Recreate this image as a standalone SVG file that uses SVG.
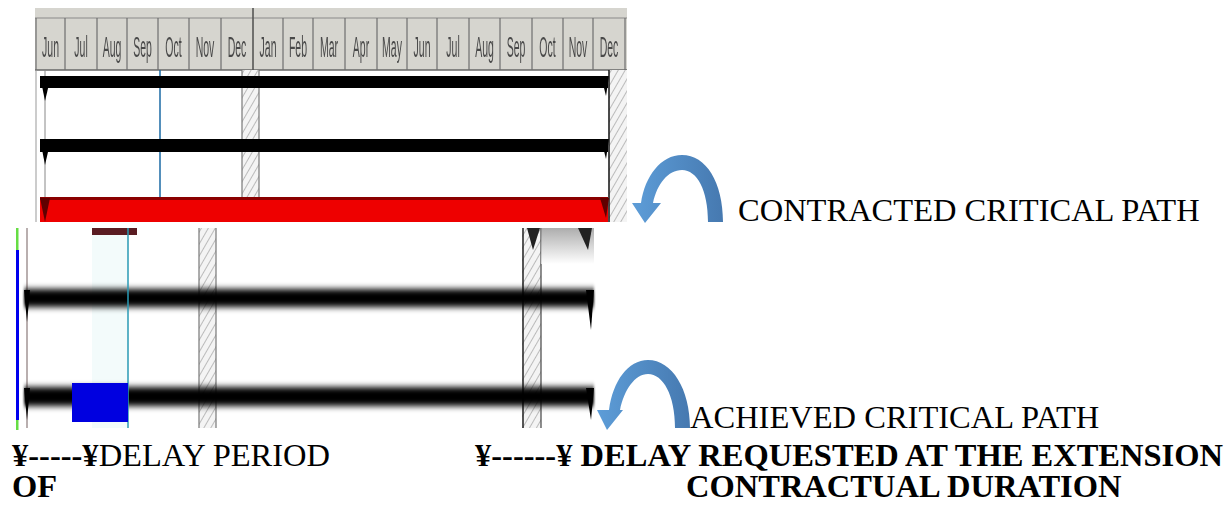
<svg xmlns="http://www.w3.org/2000/svg" width="1230" height="505" viewBox="0 0 1230 505">
<style>
.mon{font-family:"Liberation Sans",Arial,sans-serif;font-size:14px;fill:#4a4a4a;text-anchor:middle}
.lbl{font-family:"Liberation Serif","Times New Roman",serif;font-size:32.5px;fill:#000}
.b{font-weight:bold}
.div{stroke:#6e6e6e;stroke-width:1.2}
.hl{stroke:#8a8a8a;stroke-width:1.2}
</style>
<defs>
<pattern id="hatch" width="6" height="6" patternUnits="userSpaceOnUse" patternTransform="rotate(30)">
<rect width="6" height="6" fill="#f4f4f4"/>
<line x1="0" y1="0" x2="0" y2="6" stroke="#a8a8a8" stroke-width="1.5"/>
</pattern>
<linearGradient id="arr" x1="0" y1="0" x2="1" y2="0">
<stop offset="0" stop-color="#5d9dd8"/>
<stop offset="1" stop-color="#4679b0"/>
</linearGradient>
<linearGradient id="grayfade" x1="0" y1="0" x2="0" y2="1">
<stop offset="0" stop-color="#8a8a8a"/>
<stop offset="1" stop-color="#ffffff"/>
</linearGradient>
<filter id="blur" x="-5%" y="-60%" width="110%" height="220%">
<feGaussianBlur stdDeviation="1 3"/>
</filter>
<filter id="soft" x="-5%" y="-20%" width="110%" height="140%">
<feGaussianBlur stdDeviation="0.6"/>
</filter>
</defs>

<!-- Top Gantt panel -->
<g id="contracted-chart" filter="url(#soft)">
<rect x="35" y="8" width="592" height="214" fill="#ffffff"/>
<rect x="35" y="8" width="592" height="62" fill="#d6d5cf"/>
<line x1="35" y1="18" x2="627" y2="18" class="hl"/>
<line x1="35" y1="70" x2="627" y2="70" stroke="#666" stroke-width="1.5"/>
<g>
<line x1="36" y1="18" x2="36" y2="70" class="div"/>
<line x1="65" y1="18" x2="65" y2="70" class="div"/>
<line x1="97" y1="18" x2="97" y2="70" class="div"/>
<line x1="127" y1="18" x2="127" y2="70" class="div"/>
<line x1="158" y1="18" x2="158" y2="70" class="div"/>
<line x1="189" y1="18" x2="189" y2="70" class="div"/>
<line x1="221" y1="18" x2="221" y2="70" class="div"/>
<line x1="253" y1="8" x2="253" y2="70" stroke="#555" stroke-width="1.6"/>
<line x1="283" y1="18" x2="283" y2="70" class="div"/>
<line x1="313" y1="18" x2="313" y2="70" class="div"/>
<line x1="345" y1="18" x2="345" y2="70" class="div"/>
<line x1="377" y1="18" x2="377" y2="70" class="div"/>
<line x1="407" y1="18" x2="407" y2="70" class="div"/>
<line x1="437" y1="18" x2="437" y2="70" class="div"/>
<line x1="469" y1="18" x2="469" y2="70" class="div"/>
<line x1="500" y1="18" x2="500" y2="70" class="div"/>
<line x1="532" y1="18" x2="532" y2="70" class="div"/>
<line x1="563" y1="18" x2="563" y2="70" class="div"/>
<line x1="593" y1="18" x2="593" y2="70" class="div"/>
<line x1="625" y1="18" x2="625" y2="70" class="div"/>
</g>
<g>
<text class="mon" transform="translate(50.5,57) scale(0.75,2.1)">Jun</text>
<text class="mon" transform="translate(81,57) scale(0.75,2.1)">Jul</text>
<text class="mon" transform="translate(112,57) scale(0.75,2.1)">Aug</text>
<text class="mon" transform="translate(142.5,57) scale(0.75,2.1)">Sep</text>
<text class="mon" transform="translate(173.5,57) scale(0.75,2.1)">Oct</text>
<text class="mon" transform="translate(205,57) scale(0.75,2.1)">Nov</text>
<text class="mon" transform="translate(237,57) scale(0.75,2.1)">Dec</text>
<text class="mon" transform="translate(268,57) scale(0.75,2.1)">Jan</text>
<text class="mon" transform="translate(298,57) scale(0.75,2.1)">Feb</text>
<text class="mon" transform="translate(329,57) scale(0.75,2.1)">Mar</text>
<text class="mon" transform="translate(361,57) scale(0.75,2.1)">Apr</text>
<text class="mon" transform="translate(392,57) scale(0.75,2.1)">May</text>
<text class="mon" transform="translate(422,57) scale(0.75,2.1)">Jun</text>
<text class="mon" transform="translate(453,57) scale(0.75,2.1)">Jul</text>
<text class="mon" transform="translate(484.5,57) scale(0.75,2.1)">Aug</text>
<text class="mon" transform="translate(516,57) scale(0.75,2.1)">Sep</text>
<text class="mon" transform="translate(547.5,57) scale(0.75,2.1)">Oct</text>
<text class="mon" transform="translate(578,57) scale(0.75,2.1)">Nov</text>
<text class="mon" transform="translate(609,57) scale(0.75,2.1)">Dec</text>
</g>
<!-- body grid -->
<line x1="36" y1="70" x2="36" y2="222" stroke="#999" stroke-width="1"/>
<line x1="45" y1="70" x2="45" y2="222" stroke="#888" stroke-width="1"/>
<rect x="242" y="70" width="17" height="152" fill="url(#hatch)"/>
<line x1="242" y1="70" x2="242" y2="222" stroke="#777" stroke-width="1.2"/>
<line x1="259" y1="70" x2="259" y2="222" stroke="#777" stroke-width="1.2"/>
<rect x="609" y="70" width="18" height="152" fill="url(#hatch)"/>
<line x1="609" y1="70" x2="609" y2="222" stroke="#111" stroke-width="1.5"/>
<line x1="160" y1="70" x2="160" y2="222" stroke="#1a6aa5" stroke-width="1.5"/>
<!-- bars -->
<rect x="40" y="76" width="568" height="12" fill="#050505"/>
<polygon points="40,76 51,76 45,101" fill="#050505"/>
<polygon points="601,76 609,76 606,96" fill="#050505"/>
<rect x="40" y="139" width="568" height="13" fill="#050505"/>
<polygon points="40,139 51,139 45,165" fill="#050505"/>
<polygon points="601,139 609,139 606,159" fill="#050505"/>
<rect x="40" y="198" width="568" height="24" fill="#ee0000"/>
<rect x="40" y="197" width="568" height="3" fill="#8a0000"/>
<polygon points="40,198 50,198 45,222" fill="#600000"/>
<polygon points="600,198 609,198 606,218" fill="#600000"/>
</g>

<!-- Bottom Gantt panel -->
<g id="achieved-chart">
<rect x="16" y="228" width="578" height="200" fill="#ffffff"/>
<rect x="16" y="228" width="2.5" height="202" fill="#66dd44"/>
<rect x="16" y="250" width="3" height="170" fill="#0000ee"/>
<line x1="27" y1="228" x2="27" y2="428" stroke="#8a7a7a" stroke-width="1.2"/>
<rect x="92" y="234" width="36" height="194" fill="#f3fbfb"/>
<rect x="92" y="228" width="45" height="7" fill="#5a1a20" filter="url(#soft)"/>
<rect x="199" y="228" width="17" height="200" fill="url(#hatch)"/>
<line x1="199" y1="228" x2="199" y2="428" stroke="#777" stroke-width="1.2"/>
<line x1="216" y1="228" x2="216" y2="428" stroke="#777" stroke-width="1.2"/>
<rect x="522" y="228" width="19" height="200" fill="url(#hatch)"/>
<line x1="523" y1="228" x2="523" y2="428" stroke="#222" stroke-width="1.5"/>
<line x1="541" y1="228" x2="541" y2="428" stroke="#444" stroke-width="1.2"/>
<rect x="541" y="228" width="53" height="36" fill="url(#grayfade)" opacity="0.7"/>
<polygon points="527,228 540,228 533,250" fill="#222" filter="url(#soft)"/>
<polygon points="578,228 592,228 588,250" fill="#222" filter="url(#soft)"/>
<g filter="url(#blur)">
<rect x="24" y="289" width="570" height="18" fill="#000"/>
<rect x="24" y="387" width="570" height="19" fill="#000"/>
</g>
<polygon points="24,290 30,290 27,322" fill="#000"/>
<polygon points="586,290 594,290 591,330" fill="#000"/>
<polygon points="24,388 30,388 27,420" fill="#000"/>
<polygon points="586,388 594,388 591,420" fill="#000"/>
<line x1="128" y1="228" x2="128" y2="428" stroke="#2a9ab5" stroke-width="1.5"/>
<rect x="72" y="383" width="56" height="39" fill="#0000e0"/>
</g>

<!-- curved arrows -->
<g id="connectors">
<path d="M708 222 L723 222 C723 182 706 155 682 155 C661 155 645 176 641 203 L632 203 L645 223 L661 203 L653 203 C657 184 668 170 682 170 C697 170 708 190 708 222 Z" fill="url(#arr)"/>
<path d="M675 428 L690 428 C690 389 672 360 648 360 C628 360 613 381 609 410 L597 410 L607 430 L623 410 L620 410 C624 390 635 374 648 374 C663 374 675 395 675 428 Z" fill="url(#arr)"/>
</g>

<!-- labels -->
<g id="label-contracted">
<text class="lbl" x="738" y="221">CONTRACTED CRITICAL PATH</text>
</g>
<g id="label-achieved">
<text class="lbl" x="690" y="428">ACHIEVED CRITICAL PATH</text>
</g>
<g id="legend-delay-period">
<text class="lbl" x="12" y="466"><tspan class="b">¥-----¥</tspan>DELAY PERIOD</text>
<text class="lbl b" x="12" y="497">OF</text>
</g>
<g id="legend-delay-requested">
<text class="lbl b" x="475" y="466">¥------¥ DELAY REQUESTED AT THE EXTENSION</text>
<text class="lbl b" x="686" y="497">CONTRACTUAL DURATION</text>
</g>
</svg>
